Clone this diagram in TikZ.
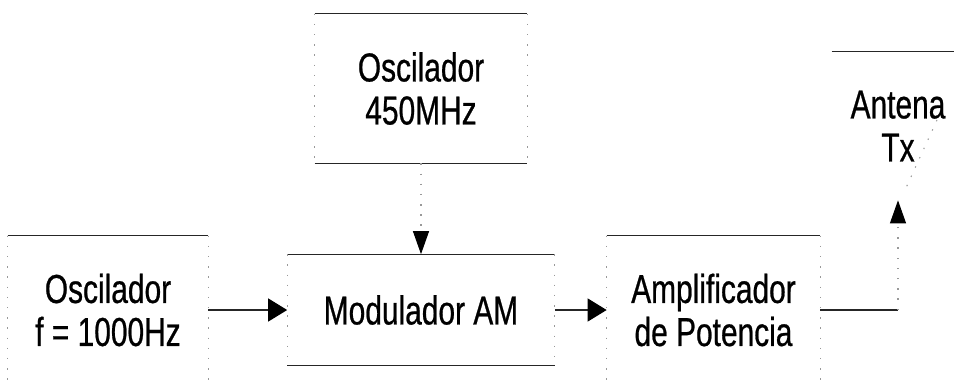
\documentclass[tikz,border=0pt]{standalone}
\usepackage{fontspec}
\usepackage{tikz}
\usetikzlibrary{positioning,arrows.meta,calc}
\newfontfamily\blkfont[FakeStretch=0.74,FakeBold=0.6]{Liberation Sans}
\tikzset{
  blk/.style ={inner sep=0pt, align=center, font=\blkfont\fontsize{23}{24.5}\selectfont},
  rim/.style ={line width=0.7pt, black!85},
  side/.style={line width=0.6pt, black!40, dash pattern=on 0.8pt off 5pt},
  harr/.style={-{Triangle[length=0.38cm, width=0.46cm, black]}, line width=0.7pt, black!85},
  varr/.style={-{Triangle[length=0.46cm, width=0.32cm, black]}, line width=0.6pt, black!40, dash pattern=on 0.8pt off 5pt},
}
\begin{document}
\begin{tikzpicture}[x=0.02cm, y=-0.02cm]
  \useasboundingbox (0,0) rectangle (954,383);
  \node[blk, minimum width=4.00cm, minimum height=2.96cm] (lo)  at (108,310)   {Oscilador\\f = 1000Hz};
  \node[blk, minimum width=4.24cm, minimum height=2.98cm] (hf)  at (421,88.5)  {Oscilador\\450MHz};
  \node[blk, minimum width=5.34cm, minimum height=2.22cm] (mod) at (421,310)   {Modulador AM};
  \node[blk, minimum width=4.26cm, minimum height=2.96cm] (amp) at (713.5,310) {Amplificador\\de Potencia};
  \node[blk, minimum width=2.64cm, minimum height=2.96cm] (ant) at (898,126)   {Antena\\Tx};
  % box edges: solid top and bottom, faint sides
  \foreach \n in {lo,hf,mod,amp} {
    \draw[rim] (\n.north west) -- (\n.north east);
    \draw[rim] (\n.south west) -- (\n.south east);
    \draw[side] (\n.north west) -- (\n.south west);
    \draw[side] (\n.north east) -- (\n.south east);
  }
  \draw[rim] (ant.north west) -- (ant.north east);
  \draw[side] (937,120) -- (905,190);
  % signal path
  \draw[harr] (lo.east) -- (mod.west);
  \draw[harr] (mod.east) -- (amp.west);
  \draw[varr] (hf.south) -- (mod.north);
  \coordinate (turn) at (amp.east -| ant.south);
  \draw[rim] (amp.east) -- (turn);
  \draw[varr] (turn) -- (ant.south);
\end{tikzpicture}
\end{document}
